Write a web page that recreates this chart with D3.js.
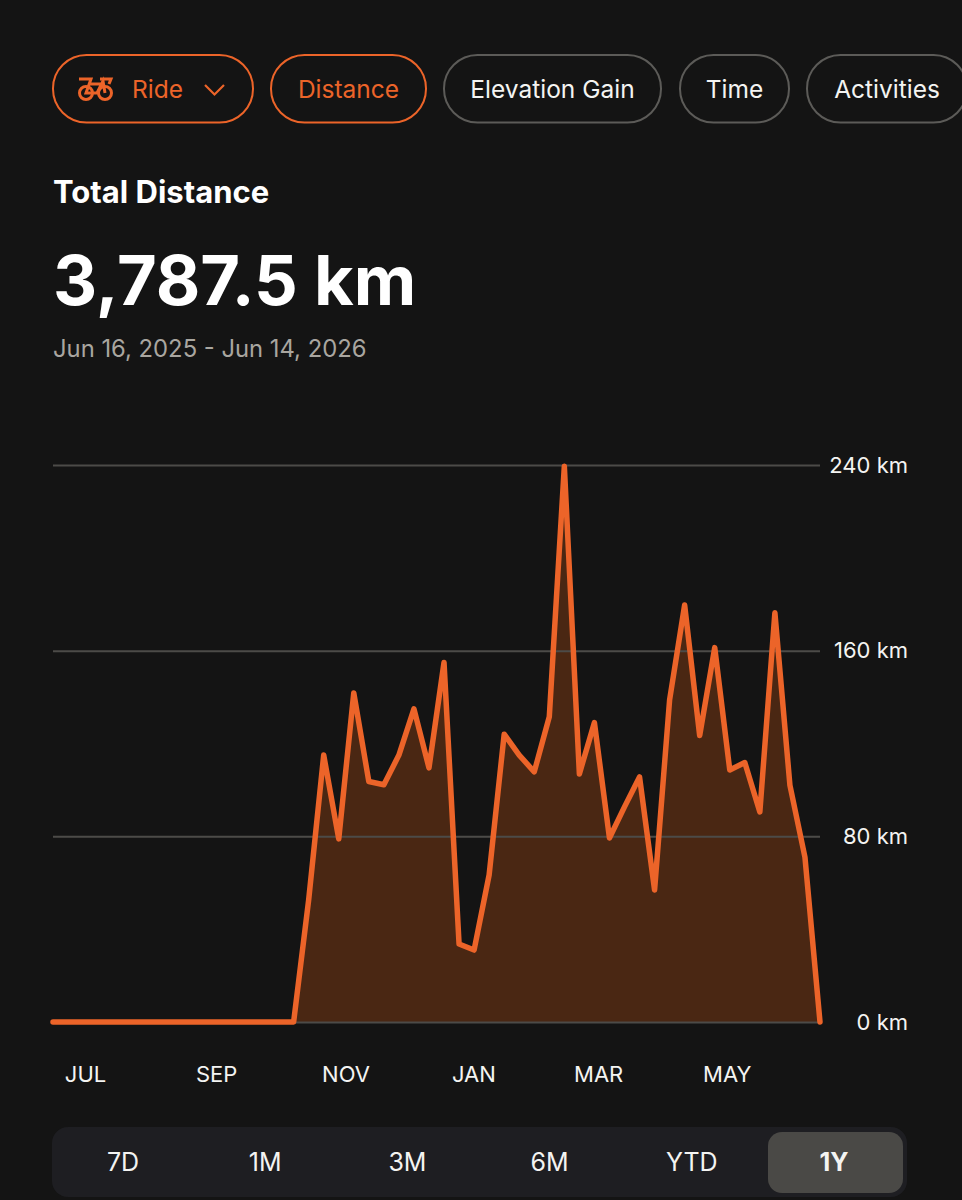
<!DOCTYPE html>
<html>
<head>
<meta charset="utf-8">
<style>
  html, body { margin: 0; background: #141414; }
  svg { display: block; }
  text { font-family: Inter, "Noto Sans", sans-serif; }
</style>
<script src="https://cdn.jsdelivr.net/npm/d3@7"></script>
</head>
<body>
<div id="chart"></div>
<script>
// weekly distance in km, 52 weeks from Jun 16 2025
var weeklyKm = [
  0, 0, 0, 0, 0, 0, 0, 0, 0, 0, 0, 0, 0, 0, 0, 0, 0,
  52.6, 115, 78.9, 141.8, 103.6, 102.2, 115, 134.9, 109.5, 154.9,
  33.6, 31, 63.4, 124, 115, 107.8, 131.5, 239.5, 106.9, 129,
  79.3, 92.7, 105.6, 56.9, 138.8, 179.7, 123.4, 161.3, 108.6, 111.8,
  90.5, 176.3, 102, 71, 0
];
var yTicks = [0, 80, 160, 240];
var monthLabels = ["JUL", "SEP", "NOV", "JAN", "MAR", "MAY"];
var monthWeeks = [2.13, 10.85, 19.45, 27.95, 36.25, 44.8];
var chipLabels = ["Ride", "Distance", "Elevation Gain", "Time", "Activities"];
var rangeLabels = ["7D", "1M", "3M", "6M", "YTD", "1Y"];

var orange = "#ec6429";
var width = 962;
var height = 1200;

var svg = d3.select("#chart")
  .append("svg")
  .attr("width", width)
  .attr("height", height);

// filter chips along the top
var chipBoxes = [[53, 200], [271, 155], [444, 217], [680, 109], [807, 160]];

chipLabels.forEach(function(label, i) {
  var active = i < 2;
  var color = active ? orange : "#5c5b58";
  svg.append("rect")
    .attr("x", chipBoxes[i][0])
    .attr("y", 55)
    .attr("width", chipBoxes[i][1])
    .attr("height", 67.5)
    .attr("rx", 33.5)
    .attr("fill", "none")
    .attr("stroke", color)
    .attr("stroke-width", 2);

  svg.append("text")
    .attr("x", i === 0 ? 157.5 : chipBoxes[i][0] + chipBoxes[i][1] / 2)
    .attr("y", 98)
    .attr("text-anchor", "middle")
    .attr("font-size", 24.5)
    .attr("fill", active ? orange : "#f4f4f2")
    .text(label);
});

// chevron on the Ride chip
svg.append("path")
  .attr("d", "M205 85 L214.5 94.5 L224 85")
  .attr("fill", "none")
  .attr("stroke", orange)
  .attr("stroke-width", 2.2);

// bike icon
var bike = svg.append("g")
  .attr("fill", "none")
  .attr("stroke", orange)
  .attr("stroke-width", 3);
bike.append("circle").attr("cx", 86).attr("cy", 93).attr("r", 6.5);
bike.append("circle").attr("cx", 105).attr("cy", 93).attr("r", 6.5);
bike.append("path").attr("d", "M79 79 H91 L86 93 H97 L103 81 L105 93 M90 84 H102 L97 93 M100 79 H111 L109 84");

// headline
svg.append("text")
  .attr("x", 53).attr("y", 203)
  .attr("font-size", 31).attr("font-weight", 700)
  .attr("fill", "#ffffff")
  .text("Total Distance");

svg.append("text")
  .attr("x", 53).attr("y", 305)
  .attr("font-size", 68.5).attr("font-weight", 700)
  .attr("fill", "#ffffff")
  .text("3,787.5 km");

svg.append("text")
  .attr("x", 53).attr("y", 357)
  .attr("font-size", 23.8)
  .attr("fill", "#a9a6a0")
  .text("Jun 16, 2025 - Jun 14, 2026");

// scales
var x = d3.scaleLinear().domain([0, weeklyKm.length - 1]).range([53, 820]);
var y = d3.scaleLinear().domain([0, 240]).range([1022, 465]);

// area goes under the grid lines so they show through faintly
var area = d3.area()
  .x(function(d, i) { return x(i); })
  .y0(y(0))
  .y1(function(d) { return y(d); });

svg.append("path")
  .datum(weeklyKm)
  .attr("d", area)
  .attr("fill", "#4a2713");

// y axis with grid lines
var yAxis = svg.append("g")
  .attr("transform", "translate(820,0)")
  .call(d3.axisRight(y)
    .tickValues(yTicks)
    .tickSize(-767)
    .tickPadding(0)
    .tickFormat(function(d) { return d + " km"; }));
yAxis.select(".domain").remove();
yAxis.selectAll("line")
  .attr("stroke", "#4c4b48")
  .attr("stroke-width", 2);
yAxis.selectAll("text")
  .attr("x", 88)
  .attr("text-anchor", "end")
  .attr("font-size", 22)
  .attr("fill", "#f4f4f2");

// x axis labels
var xAxis = svg.append("g")
  .attr("transform", "translate(0,1066)")
  .call(d3.axisBottom(x)
    .tickValues(monthWeeks)
    .tickSize(0)
    .tickPadding(0)
    .tickFormat(function(d, i) { return monthLabels[i]; }));
xAxis.select(".domain").remove();
xAxis.selectAll("text")
  .attr("font-size", 22)
  .attr("fill", "#f4f4f2");

// the line itself
var line = d3.line()
  .x(function(d, i) { return x(i); })
  .y(function(d) { return y(d); });

svg.append("path")
  .datum(weeklyKm)
  .attr("d", line)
  .attr("fill", "none")
  .attr("stroke", orange)
  .attr("stroke-width", 5.5)
  .attr("stroke-linejoin", "round")
  .attr("stroke-linecap", "round");

// range selector
svg.append("rect")
  .attr("x", 52).attr("y", 1127)
  .attr("width", 855).attr("height", 70)
  .attr("rx", 16)
  .attr("fill", "#1e1e22");

svg.append("rect")
  .attr("x", 768).attr("y", 1132)
  .attr("width", 135).attr("height", 61)
  .attr("rx", 14)
  .attr("fill", "#4a4946");

var rangeX = d3.scalePoint().domain(rangeLabels).range([123, 834]);

svg.selectAll(".range")
  .data(rangeLabels)
  .enter()
  .append("text")
  .attr("class", "range")
  .attr("x", function(d) { return rangeX(d); })
  .attr("y", 1171)
  .attr("text-anchor", "middle")
  .attr("font-size", 25)
  .attr("font-weight", function(d) { return d === "1Y" ? 700 : 400; })
  .attr("fill", "#f4f4f2")
  .text(function(d) { return d; });
</script>
</body>
</html>
